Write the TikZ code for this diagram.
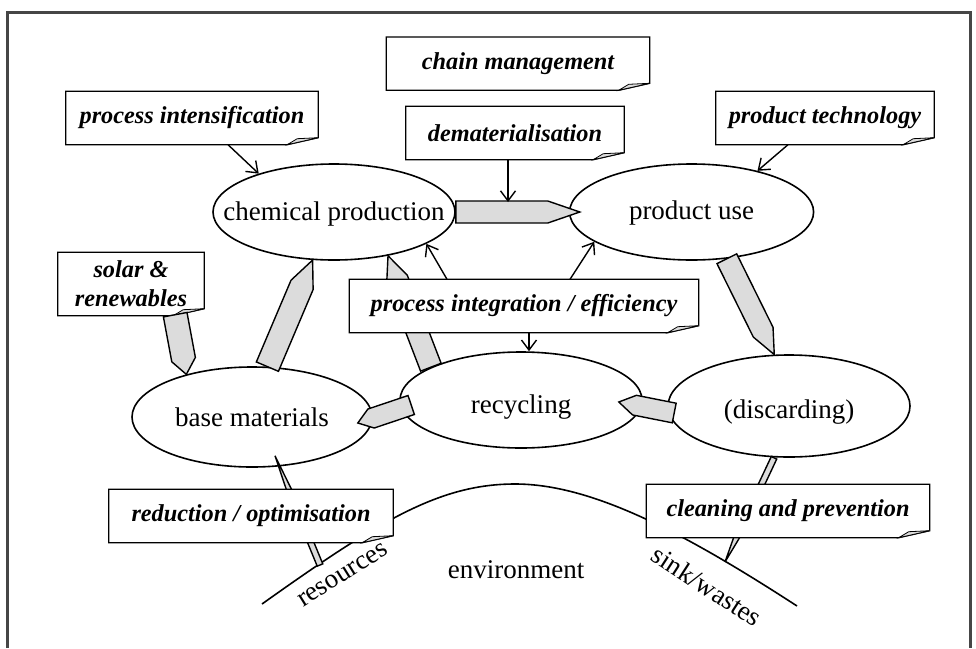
\documentclass[tikz,border=0pt]{standalone}
\usepackage{fontspec}
\setmainfont{Liberation Serif}
\usetikzlibrary{calc,positioning,shapes.geometric,arrows.meta}

\definecolor{flowgray}{RGB}{220,220,220}
\definecolor{framegray}{RGB}{70,70,70}

%% pencil shaped flow arrow: tail, tip, half width, head length
\newcommand\flowarrow[4]{%
  \path (#1) coordinate (ft) (#2) coordinate (fp);
  \path ($(fp)!#4!(ft)$) coordinate (fs);
  \filldraw[flow] ($(ft)!#3!90:(fp)$) -- ($(fs)!#3!-90:(ft)$) -- (fp)
    -- ($(fs)!#3!90:(ft)$) -- ($(ft)!#3!-90:(fp)$) -- cycle;
}
%% outline of a note with its folded corner
\newcommand\foldbox[1]{%
  \draw[line width=1.3pt] (#1.south west) -- (#1.north west) -- (#1.north east)
    -- ([yshift=7pt]#1.south east) -- ([xshift=-31pt]#1.south east) -- cycle;
  \filldraw[line width=0.8pt, fill=flowgray] ([xshift=-31pt]#1.south east)
    -- ([xshift=-21pt,yshift=6pt]#1.south east) -- ([yshift=7pt]#1.south east) -- cycle;
}

\begin{document}
\begin{tikzpicture}[x=1pt, y=-1pt,
    stage/.style={ellipse, draw, line width=1.6pt, minimum width=242pt, minimum height=96pt,
      inner sep=0pt, text height=22pt, text depth=6pt, font=\fontsize{27}{31}\selectfont},
    note/.style={rectangle, fill=white, minimum height=53pt, inner sep=0pt, align=center,
      font=\bfseries\itshape\fontsize{24.3}{29}\selectfont},
    flow/.style={fill=flowgray, draw, line width=1.4pt, line join=miter},
    hint/.style={line width=1.4pt, -{Straight Barb[length=10pt,width=15pt]}},
    plain/.style={font=\fontsize{27}{31}\selectfont}]

    \useasboundingbox (0,0) rectangle (976,648);
    \draw[framegray, line width=3pt] (7,648) -- (7,12) -- (970,12) -- (970,648);

    %% life cycle stages
    \node[stage] (chem) at (334,212) {\makebox[0pt]{chemical production}};
    \node[stage, minimum width=244pt, text height=20pt, right=113pt of chem] (use) {\makebox[0pt]{product use}};
    \node[stage, minimum width=240pt, minimum height=100pt, text height=24pt] (base) at (252,417) {\makebox[0pt]{base materials}};
    \node[stage, text height=32pt] (recyc) at (521,400) {\makebox[0pt]{recycling}};
    \node[stage, minimum height=102pt, text height=30pt] (disc) at (789,406) {\makebox[0pt]{(discarding)}};

    %% environment
    \draw[line width=1.6pt] (262,604) .. controls (380,520) and (440,484) .. (515,484)
      .. controls (590,484) and (680,530) .. (797,606);
    \coordinate (res) at (320,565);
    \coordinate (sink) at (725,562);
    \node[plain] (env) at (516,570) {environment};
    \node[plain, rotate=32] (reslabel) at (343,575) {resources};
    \node[plain, rotate=-33] (sinklabel) at (707,586) {sink/wastes};

    %% flows between the stages
    \flowarrow{chem.east}{$(use.west)+(11,0)$}{11pt}{32pt}
    \flowarrow{base.73}{chem.246}{12pt}{27pt}
    \flowarrow{recyc.160}{chem.321}{11pt}{25pt}
    \flowarrow{use.307}{disc.106}{11pt}{25pt}
    \flowarrow{$(recyc.west)+(12,5)$}{$(base.east)+(-15,6)$}{10pt}{14pt}
    \flowarrow{$(disc.west)+(7,7)$}{$(recyc.east)+(-24,2)$}{10pt}{16pt}
    \flowarrow{res}{$(base.south)+(23,-12)$}{3pt}{45pt}
    \flowarrow{$(disc.south)+(-15,0)$}{sink}{3pt}{30pt}
    \coordinate (flowtop) at (508,202);

    %% notes
    \node[note, minimum width=252pt] (intens) at (192,118) {process intensification};
    \node[note, minimum width=218pt] (demat) at (515,133) {dematerialisation};
    \node[note, minimum width=263pt, above=16pt of demat, xshift=3pt] (chain) {chain management};
    \node[note, minimum width=218pt] (prodtech) at (825,118) {product technology};
    \node[note, minimum width=146pt, minimum height=63pt] (solar) at (131,284) {solar \&\\renewables};
    \node[note, minimum width=349pt] (integ) at (524,306) {process integration / efficiency};
    \node[note, minimum width=284pt] (reduc) at (251,516) {reduction / optimisation};
    \node[note, minimum width=283pt] (clean) at (788,511) {cleaning and prevention};
    \foldbox{intens}
    \foldbox{demat}
    \foldbox{chain}
    \foldbox{prodtech}
    \foldbox{solar}
    \foldbox{integ}
    \foldbox{reduc}
    \foldbox{clean}

    \flowarrow{$(solar.south east)+(-29,-1)$}{base.147}{12pt}{15pt}

    %% what each strategy acts on
    \draw[hint] ($(intens.south)+(36,0)$) -- (chem.153);
    \draw[hint] ($(prodtech.south)+(-37,0)$) -- (use.32);
    \draw[hint] ($(demat.south)+(-7,0)$) -- (flowtop);
    \draw[hint] ($(integ.north)+(-77,0)$) -- (chem.341);
    \draw[hint] ($(integ.north)+(46,0)$) -- (use.197);
    \draw[hint] ($(integ.south)+(5,0)$) -- ($(recyc.north)+(8,0)$);

\end{tikzpicture}
\end{document}
